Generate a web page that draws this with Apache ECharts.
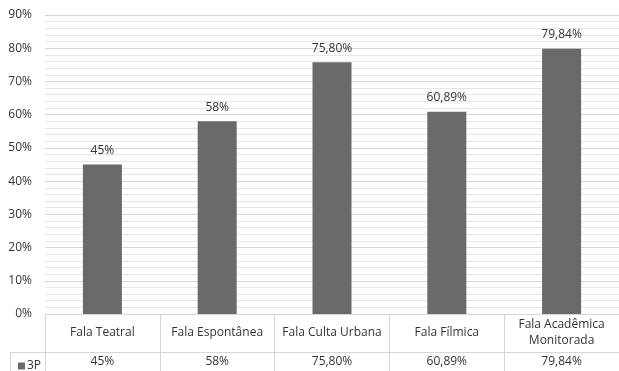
<!DOCTYPE html>
<html>
<head>
<meta charset="utf-8">
<script src="https://cdn.jsdelivr.net/npm/echarts@6/dist/echarts.min.js"></script>
<style>
  html, body { margin: 0; padding: 0; background: #fff; }
  #main { width: 619px; height: 371px; }
</style>
</head>
<body>
<div id="main"></div>
<script>
// categorias e valores (3P)
var categories = ['Fala Teatral', 'Fala Espontânea', 'Fala Culta Urbana', 'Fala Fílmica', 'Fala Acadêmica\nMonitorada'];
var values3P = [45, 58, 75.80, 60.89, 79.84];
var seriesName = '3P';

// formata no estilo pt-BR: 45% / 75,80%
function fmt(v) {
    if (Number.isInteger(v)) return v + '%';
    return v.toFixed(2).replace('.', ',') + '%';
}
var tableLabels = values3P.map(fmt);

var font = 'Open Sans';
var textColor = '#333333';
var lineColor = '#d6d6d6';

var myChart = echarts.init(document.getElementById('main'));

var option = {
    animation: false,
    textStyle: { fontFamily: font },
    grid: { left: 45, right: -1, top: 15, bottom: 57 },
    legend: {
        data: [seriesName],
        left: 13, top: 355,
        itemWidth: 7, itemHeight: 7, itemGap: 0,
        icon: 'rect',
        textStyle: { fontFamily: font, fontSize: 12, color: textColor, padding: [0, 0, 0, -3] }
    },
    xAxis: [
        {
            type: 'category',
            data: categories,
            position: 'bottom',
            axisLine: { lineStyle: { color: lineColor } },
            axisTick: { show: true, length: 57, lineStyle: { color: lineColor } },
            axisLabel: { color: textColor, fontSize: 12, margin: 19, verticalAlign: 'middle', lineHeight: 16, interval: 0 }
        },
        {
            type: 'category',
            data: tableLabels,
            position: 'bottom',
            offset: 38,
            axisLine: { show: true, lineStyle: { color: lineColor } },
            axisTick: { show: false },
            axisLabel: { color: textColor, fontSize: 12, margin: 10, verticalAlign: 'middle', interval: 0 }
        }
    ],
    yAxis: {
        type: 'value',
        min: 0, max: 90, interval: 10,
        splitNumber: 9,
        axisLine: { show: false },
        axisTick: { show: false },
        axisLabel: { formatter: '{value}%', color: textColor, fontSize: 12, margin: 13 },
        splitLine: { lineStyle: { color: lineColor } },
        minorTick: { show: false, splitNumber: 5 },
        minorSplitLine: { show: true, lineStyle: { color: '#e6e6e6' } }
    },
    series: [{
        name: seriesName,
        type: 'bar',
        data: values3P,
        barWidth: 39,
        itemStyle: { color: '#6a6a6a' },
        label: {
            show: true, position: 'top', distance: 8,
            color: textColor, fontSize: 12,
            formatter: function (p) { return fmt(p.value); }
        }
    }],
    graphic: [
        { type: 'line', shape: { x1: 10, y1: 352.5, x2: 45, y2: 352.5 }, style: { stroke: lineColor, lineWidth: 1 } },
        { type: 'line', shape: { x1: 10.5, y1: 352, x2: 10.5, y2: 371 }, style: { stroke: lineColor, lineWidth: 1 } }
    ]
};

myChart.setOption(option);
</script>
</body>
</html>
